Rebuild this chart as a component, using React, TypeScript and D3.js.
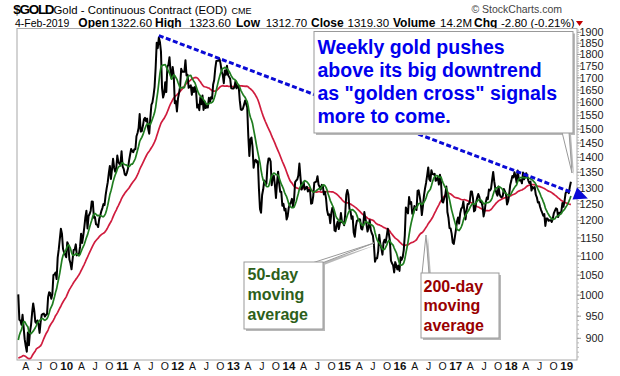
import React from "react";
import * as d3 from "d3";

// ---------- DATA (weekly closes, continuous gold contract) ----------
// lead-in weeks (only used for the moving averages), from 2008-05-23
const lead2008 = [925, 887, 903, 872, 904, 930, 932, 962, 958, 928, 914, 863, 787, 830, 834, 803, 765, 865, 887, 833, 860, 786, 731, 719, 738, 745, 800, 815, 755, 823, 835, 872, 879, 855, 838, 896, 928, 914, 943];
// from 2009-02-20
const gold2009 = [1002, 942, 940, 930, 953, 925, 898, 883, 871, 913, 885, 915, 930, 958, 980, 963, 937, 934, 940, 931, 912, 937, 953, 955, 956, 949, 953, 955, 995, 1007, 1005, 991, 1003, 1050, 1052, 1057, 1040, 1096, 1118, 1147, 1176, 1162, 1120, 1110, 1104];
// from 2010-01-01
const gold2010 = [1097, 1138, 1131, 1091, 1081, 1065, 1091, 1117, 1118, 1132, 1102, 1106, 1105, 1125, 1162, 1136, 1156, 1180, 1209, 1229, 1177, 1213, 1219, 1229, 1257, 1256, 1208, 1210, 1189, 1188, 1181, 1204, 1215, 1228, 1237, 1249, 1246, 1276, 1298, 1317, 1346, 1371, 1328, 1359, 1395, 1366, 1352, 1363, 1406, 1384, 1378, 1380, 1421];
// from 2011-01-07
const gold2011 = [1369, 1361, 1343, 1340, 1348, 1362, 1388, 1409, 1429, 1421, 1418, 1428, 1428, 1474, 1486, 1504, 1556, 1491, 1493, 1511, 1536, 1542, 1529, 1539, 1501, 1483, 1541, 1591, 1601, 1628, 1663, 1742, 1852, 1828, 1876, 1856, 1813, 1658, 1620, 1636, 1682, 1642, 1746, 1755, 1788, 1725, 1697, 1746, 1711, 1598, 1606, 1566];
// from 2012-01-06
const gold2012 = [1617, 1639, 1665, 1738, 1725, 1725, 1725, 1775, 1710, 1713, 1659, 1663, 1669, 1631, 1660, 1642, 1663, 1644, 1581, 1592, 1571, 1622, 1594, 1628, 1572, 1604, 1579, 1591, 1581, 1619, 1603, 1621, 1616, 1673, 1691, 1740, 1772, 1773, 1773, 1780, 1759, 1725, 1713, 1678, 1731, 1713, 1751, 1712, 1704, 1696, 1658, 1656];
// from 2013-01-04
const gold2013 = [1656, 1662, 1687, 1657, 1666, 1667, 1609, 1573, 1572, 1577, 1592, 1608, 1596, 1581, 1476, 1405, 1463, 1469, 1436, 1365, 1387, 1392, 1383, 1387, 1297, 1234, 1223, 1277, 1295, 1323, 1310, 1313, 1372, 1396, 1396, 1386, 1308, 1333, 1338, 1309, 1268, 1315, 1352, 1314, 1287, 1287, 1244, 1250, 1230, 1235, 1203, 1213];
// from 2014-01-03
const gold2014 = [1238, 1249, 1254, 1265, 1242, 1263, 1318, 1323, 1326, 1339, 1379, 1334, 1294, 1303, 1318, 1294, 1300, 1303, 1288, 1293, 1292, 1250, 1252, 1274, 1316, 1318, 1320, 1337, 1310, 1303, 1294, 1309, 1305, 1279, 1287, 1267, 1231, 1216, 1218, 1192, 1222, 1238, 1231, 1171, 1169, 1187, 1197, 1175, 1191, 1222, 1195, 1195];
// from 2015-01-02
const gold2015 = [1186, 1217, 1277, 1293, 1279, 1234, 1228, 1205, 1212, 1165, 1153, 1183, 1199, 1201, 1204, 1203, 1177, 1174, 1188, 1225, 1205, 1189, 1168, 1180, 1201, 1173, 1163, 1157, 1131, 1085, 1094, 1094, 1113, 1159, 1133, 1121, 1104, 1137, 1145, 1137, 1155, 1176, 1162, 1142, 1088, 1081, 1076, 1057, 1084, 1075, 1065, 1075];
// from 2016-01-01
const gold2016 = [1061, 1097, 1090, 1097, 1116, 1158, 1239, 1230, 1221, 1271, 1250, 1255, 1220, 1222, 1243, 1234, 1231, 1290, 1292, 1273, 1252, 1216, 1243, 1275, 1298, 1316, 1340, 1366, 1327, 1322, 1357, 1344, 1343, 1345, 1322, 1326, 1334, 1310, 1342, 1317, 1257, 1254, 1267, 1276, 1304, 1225, 1208, 1178, 1177, 1162, 1137, 1133, 1152];
// from 2017-01-06
const gold2017 = [1173, 1197, 1209, 1191, 1221, 1235, 1239, 1257, 1226, 1203, 1230, 1249, 1249, 1257, 1288, 1288, 1268, 1227, 1230, 1255, 1269, 1280, 1271, 1255, 1256, 1242, 1212, 1228, 1254, 1269, 1264, 1294, 1291, 1297, 1325, 1351, 1320, 1297, 1284, 1275, 1304, 1280, 1272, 1270, 1274, 1296, 1288, 1280, 1248, 1257, 1278, 1309];
// from 2018-01-05
const gold2018 = [1322, 1338, 1333, 1350, 1337, 1316, 1356, 1330, 1323, 1324, 1314, 1349, 1327, 1336, 1347, 1338, 1323, 1315, 1320, 1291, 1302, 1298, 1302, 1278, 1270, 1254, 1255, 1241, 1231, 1223, 1214, 1219, 1184, 1206, 1206, 1199, 1201, 1201, 1196, 1206, 1222, 1229, 1236, 1234, 1210, 1223, 1223, 1226, 1252, 1241, 1258, 1283];
// from 2019-01-04
const gold2019 = [1287, 1290, 1283, 1303, 1319.3];

const blocks: [number, number, number, number[]][] = [
  [2008, 4, 23, lead2008],
  [2009, 1, 20, gold2009],
  [2010, 0, 1, gold2010],
  [2011, 0, 7, gold2011],
  [2012, 0, 6, gold2012],
  [2013, 0, 4, gold2013],
  [2014, 0, 3, gold2014],
  [2015, 0, 2, gold2015],
  [2016, 0, 1, gold2016],
  [2017, 0, 6, gold2017],
  [2018, 0, 5, gold2018],
  [2019, 0, 4, gold2019],
];

const yTickValues = [1900, 1850, 1800, 1750, 1700, 1650, 1600, 1550, 1500, 1450, 1400, 1350, 1300, 1250, 1200, 1150, 1100, 1050, 1000, 950, 900];
const monthLabels = [["A", 3], ["J", 6], ["O", 9]] as [string, number][];
const yearLabels = ["10", "11", "12", "13", "14", "15", "16", "17", "18", "19"];

const trend = [
  { date: new Date(2011, 8, 2), value: 1885 },
  { date: new Date(2019, 1, 8), value: 1285 },
];

// header quote items: [label, value]
const quoteItems: [string, string][] = [
  ["Open", "1322.60"],
  ["High", "1323.60"],
  ["Low", "1312.70"],
  ["Close", "1319.30"],
  ["Volume", "14.2M"],
  ["Chg", "-2.80 (-0.21%)"],
];
const quoteX = [78.3, 155, 236, 311, 393, 474];
const valueX = [110.5, 189.3, 265.7, 347.5, 440, 501];

const noteLines = ["Weekly gold pushes", "above its big downtrend", "as \"golden cross\" signals", "more to come."];
const ma50Lines = ["50-day", "moving", "average"];
const ma200Lines = ["200-day", "moving", "average"];

// ---------- LAYOUT ----------
const W = 620, H = 376;
const P = { left: 17, right: 577, top: 28.5, bottom: 360 };
const FONT = "'Liberation Sans', Arial, Helvetica, sans-serif";

type Pt = { date: Date; value: number };

function buildSeries() {
  const all: Pt[] = [];
  blocks.forEach(([yy, mm, dd, vals]) => {
    vals.forEach((v, i) => all.push({ date: new Date(yy, mm, dd + 7 * i), value: v }));
  });
  const ma = (n: number) =>
    all.map((p, i) => (i >= n - 1 ? { date: p.date, value: d3.mean(all.slice(i - n + 1, i + 1), (d) => d.value) as number } : null)).filter(Boolean) as Pt[];
  const start = lead2008.length;
  const ma10 = ma(10).filter((p) => p.date >= all[start].date);
  const ma40 = ma(40).filter((p) => p.date >= all[start].date);
  return { price: all.slice(start), ma10, ma40 };
}

export default function App() {
  const { price, ma10, ma40 } = buildSeries();
  const x = d3.scaleTime().domain([new Date(2010, 0, 1), new Date(2019, 0, 1)]).range([66.2, 566.2]);
  const y = d3.scaleLog().domain([900, 1900]).range([338.3, 32.3]);
  const line = d3.line<Pt>().x((d) => x(d.date)).y((d) => y(d.value));

  const xLabels: { x: number; t: string; bold: boolean }[] = [];
  for (let yr = 2009; yr <= 2019; yr++) {
    if (yr >= 2010) xLabels.push({ x: x(new Date(yr, 0, 1)) + 0.5, t: yearLabels[yr - 2010], bold: true });
    monthLabels.forEach(([t, m]) => {
      const xx = x(new Date(yr, m, 1)) + 1.5;
      if (xx > P.left + 4 && xx < P.right - 4) xLabels.push({ x: xx, t, bold: false });
    });
  }

  const t0 = { x: x(trend[0].date), y: y(trend[0].value) };
  const t1 = { x: x(trend[1].date), y: y(trend[1].value) };
  const dx = t1.x - t0.x, dy = t1.y - t0.y, len = Math.hypot(dx, dy);
  const ux = dx / len, uy = dy / len;
  const bx = t1.x + ux * 3, by = t1.y + uy * 3;
  const tip = [bx + ux * 14, by + uy * 14];
  const b1 = [bx - uy * 6.5, by + ux * 6.5];
  const b2 = [bx + uy * 6.5, by - ux * 6.5];

  const minorTicks = d3.range(860, 1920, 10);

  const box = (x0: number, y0: number, x1: number, y1: number, wedge: number[][], key: string) => (
    <g key={key}>
      <polygon points={wedge.map((p) => `${p[0] + 2},${p[1] + 2}`).join(" ")} fill="#b8b8b8" />
      <rect x={x0 + 2} y={y0 + 2} width={x1 - x0} height={y1 - y0} fill="#b8b8b8" />
      <polygon points={wedge.map((p) => p.join(",")).join(" ")} fill="#fff" stroke="#999" strokeWidth={1} />
      <rect x={x0} y={y0} width={x1 - x0} height={y1 - y0} fill="#fff" stroke="#999" strokeWidth={1} />
    </g>
  );

  return (
    <svg width={W} height={H} style={{ position: "absolute", left: 0, top: 0, background: "#fff" }} fontFamily={FONT}>
      <rect x={0} y={0} width={W} height={H} fill="#fff" />
      <defs>
        <clipPath id="plotclip">
          <rect x={P.left} y={P.top} width={P.right - P.left} height={P.bottom - P.top} />
        </clipPath>
      </defs>

      {/* header line 1 */}
      <text x={13.3} y={13.5} fontSize={13.5} fontWeight="bold" letterSpacing={-1.3}>$GOLD</text>
      <text x={53.5} y={13.5} fontSize={11.4}>Gold - Continuous Contract (EOD)</text>
      <text x={231.5} y={13.5} fontSize={9}>CME</text>
      <text x={562} y={12.5} fontSize={10.5} fill="#444" textAnchor="end">© StockCharts.com</text>

      {/* header line 2 */}
      <text x={15} y={26.5} fontSize={10.5}>4-Feb-2019</text>
      {quoteItems.map(([lab, val], i) => (
        <g key={lab}>
          <text x={quoteX[i]} y={26.5} fontSize={12} fontWeight="bold">{lab}</text>
          <text x={valueX[i]} y={26.5} fontSize={11.5}>{val}</text>
        </g>
      ))}
      <path d="M576,21 L583,21 L579.5,26 Z" fill="#c00000" />

      {/* frame */}
      <rect x={P.left} y={P.top} width={P.right - P.left} height={P.bottom - P.top} fill="#fff" stroke="#a8a8a8" strokeWidth={1} />

      {/* right axis */}
      <g>
        {minorTicks.map((v) => (
          <line key={"m" + v} x1={P.right} x2={P.right + 2} y1={y(v)} y2={y(v)} stroke="#bbb" strokeWidth={1} />
        ))}
        {yTickValues.map((v) => (
          <g key={v}>
            <line x1={P.right} x2={P.right + 4} y1={y(v)} y2={y(v)} stroke="#999" strokeWidth={1} />
            <text x={603.5} y={y(v) + 3.8} fontSize={10.8} textAnchor="end" fill="#222">{v}</text>
          </g>
        ))}
      </g>

      {/* bottom axis labels */}
      {xLabels.map((l, i) => (
        <text key={i} x={l.x} y={369.5} fontSize={l.bold ? 11.5 : 10.5} fontWeight={l.bold ? "bold" : "normal"} textAnchor="middle" fill="#111">{l.t}</text>
      ))}

      {/* series */}
      <g clipPath="url(#plotclip)" fill="none" strokeLinejoin="round">
        <path d={line(ma40) || ""} stroke="#d01c3e" strokeWidth={1.7} />
        <path d={line(price) || ""} stroke="#000" strokeWidth={2} />
        <path d={line(ma10) || ""} stroke="#1f7d1f" strokeWidth={1.7} />
      </g>

      {/* trend line */}
      <line x1={t0.x} y1={t0.y} x2={t1.x} y2={t1.y} stroke="#0a0ad6" strokeWidth={3} strokeDasharray="5,2.5" />
      <polygon points={[tip, b1, b2].map((p) => p.join(",")).join(" ")} fill="#0a0ad6" />

      {/* callouts */}
      {box(314, 31.5, 573, 133, [[562, 132], [569, 132], [572, 173]], "note")}
      <g fill="#0000ee" fontWeight="bold" fontSize={19.5}>
        {noteLines.map((t, i) => (
          <text key={i} x={317.5} y={53.5 + i * 23.3}>{t}</text>
        ))}
      </g>

      {box(244, 262, 323, 329, [[312, 263], [322, 263], [374, 243]], "ma50")}
      <g fill="#2d5f1a" fontWeight="bold" fontSize={16}>
        {ma50Lines.map((t, i) => (
          <text key={i} x={247.5} y={280 + i * 20}>{t}</text>
        ))}
      </g>

      {box(421, 273, 499, 338, [[422, 274], [429, 274], [426, 235]], "ma200")}
      <g fill="#990000" fontWeight="bold" fontSize={16}>
        {ma200Lines.map((t, i) => (
          <text key={i} x={423.5} y={291.5 + i * 19.7}>{t}</text>
        ))}
      </g>
    </svg>
  );
}
